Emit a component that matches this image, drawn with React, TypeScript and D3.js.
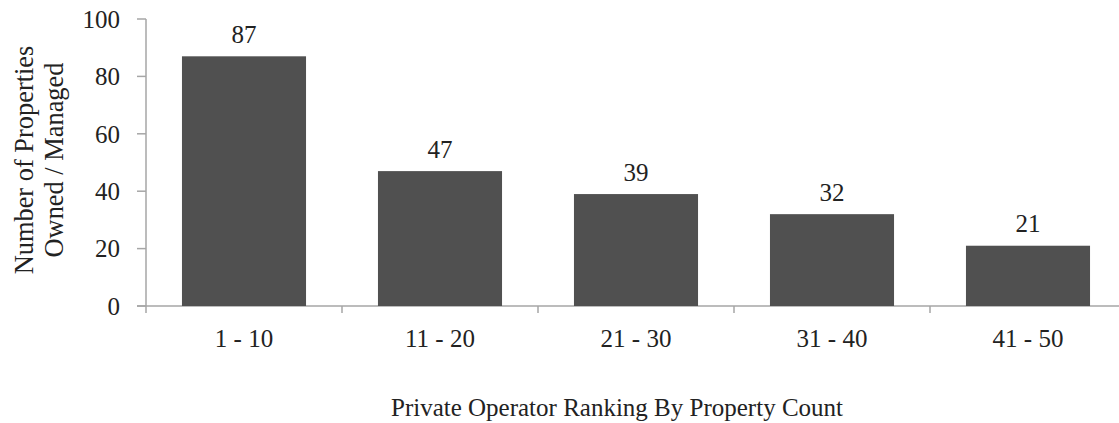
import React from "react";
import * as d3 from "d3";

const categories = ["1 - 10", "11 - 20", "21 - 30", "31 - 40", "41 - 50"];
const values = [87, 47, 39, 32, 21];
const yTicks = [0, 20, 40, 60, 80, 100];
const xTitle = "Private Operator Ranking By Property Count";
const yTitleLines = ["Number of Properties", "Owned / Managed"];

export default function App() {
  const W = 1119, H = 423;
  const left = 146, bottom = 306, top = 19;
  const step = 196;
  const x = d3.scaleBand<string>().domain(categories).range([left, left + step * categories.length]).paddingInner(0.367).paddingOuter(0.1835);
  const y = d3.scaleLinear().domain([0, 100]).range([bottom, top]);
  const font = "'Liberation Serif', 'Times New Roman', serif";
  const axisColor = "#a6a6a6";
  const fs = 25;
  return (
    <svg width={W} height={H} style={{ position: "absolute", left: 0, top: 0, background: "#fff" }} fontFamily={font}>
      <line x1={left} x2={left} y1={top} y2={bottom} stroke={axisColor} strokeWidth={1.5} />
      <line x1={137} x2={W} y1={bottom} y2={bottom} stroke={axisColor} strokeWidth={1.5} />
      {yTicks.map(t => (
        <g key={t}>
          <line x1={137} x2={left} y1={y(t)} y2={y(t)} stroke={axisColor} strokeWidth={1.5} />
          <text x={120} y={y(t)} dy="0.35em" textAnchor="end" fontSize={fs} fill="#222">{t}</text>
        </g>
      ))}
      {categories.map((c, i) => (
        <line key={"t" + c} x1={left + step * i} x2={left + step * i} y1={bottom} y2={bottom + 7} stroke={axisColor} strokeWidth={1.5} />
      ))}
      {categories.map((c, i) => (
        <g key={c}>
          <rect x={x(c)!} y={y(values[i])} width={x.bandwidth()} height={bottom - y(values[i])} fill="#505050" />
          <text x={x(c)! + x.bandwidth() / 2} y={y(values[i]) - 13.5} textAnchor="middle" fontSize={fs} fill="#222">{values[i]}</text>
          <text x={x(c)! + x.bandwidth() / 2} y={347} textAnchor="middle" fontSize={fs} fill="#222">{c}</text>
        </g>
      ))}
      <text x={617} y={416} textAnchor="middle" fontSize={fs} fill="#222">{xTitle}</text>
      <text transform="translate(0,160) rotate(-90)" textAnchor="middle" fontSize={26.4} fill="#222">
        <tspan x={0} y={33}>{yTitleLines[0]}</tspan>
        <tspan x={0} y={63}>{yTitleLines[1]}</tspan>
      </text>
    </svg>
  );
}
